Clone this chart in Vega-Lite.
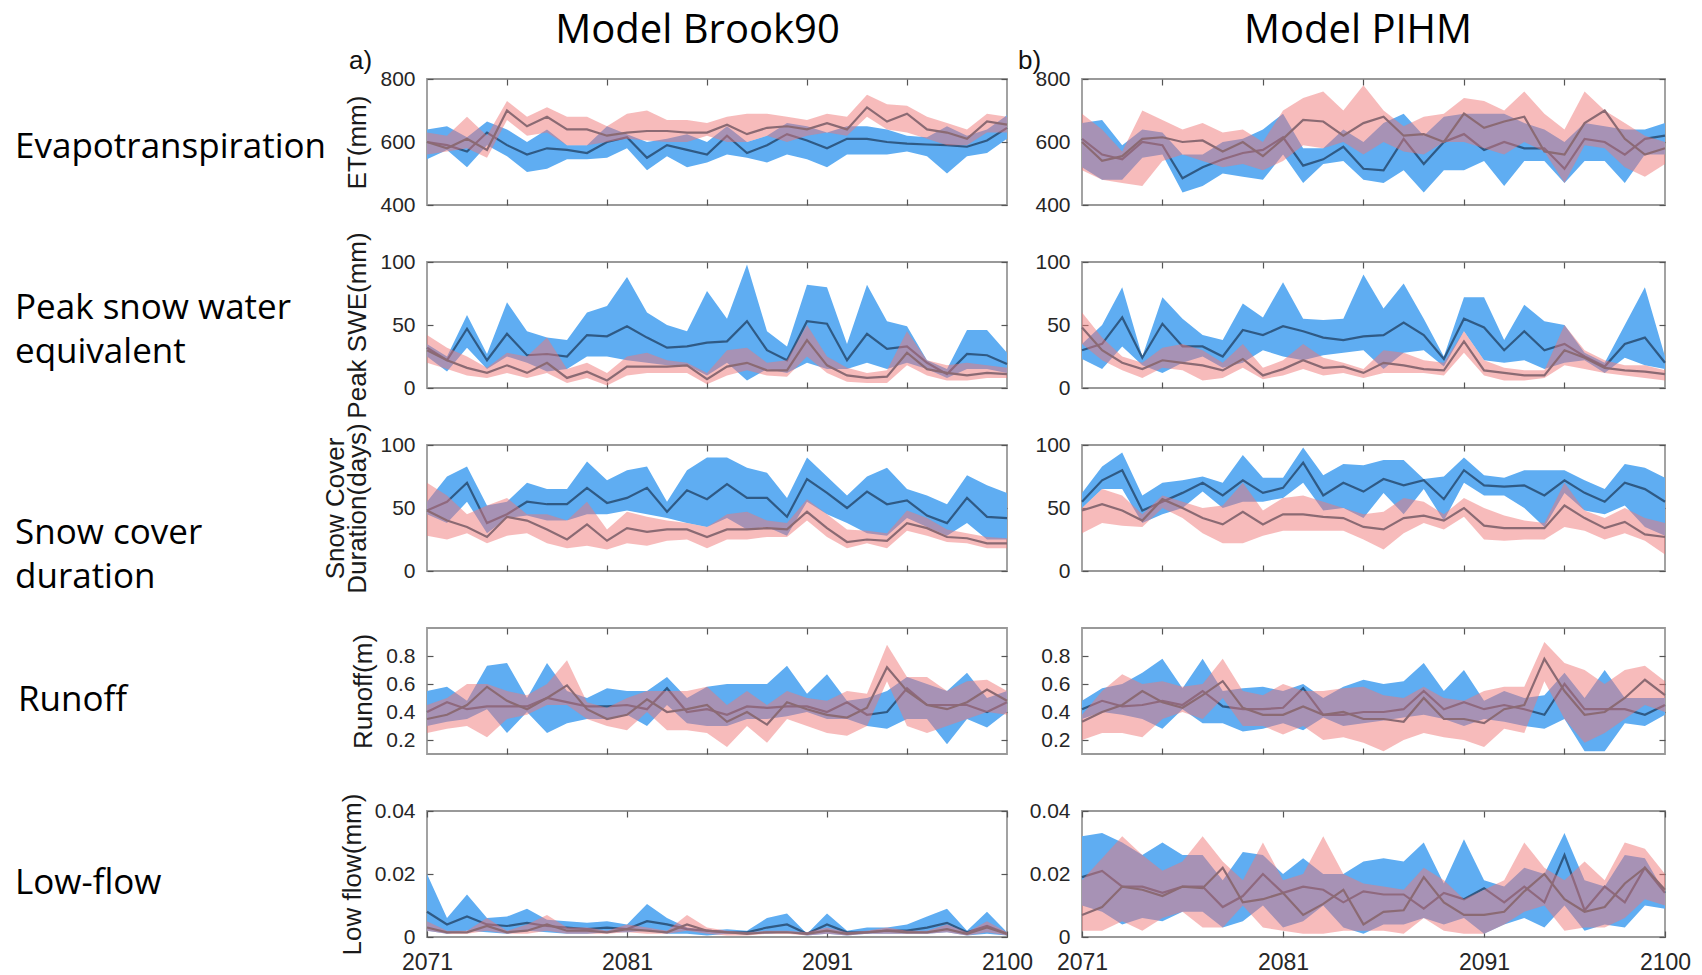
{
"$schema": "https://vega.github.io/schema/vega-lite/v6.json",
"background": "white",
"padding": {"left": 13, "top": 9, "right": 5, "bottom": 0},
"columns": 2,
"bounds": "flush",
"spacing": {"row": 57, "column": 75},
"datasets": {"d": [
{"p":"A1","yr":2071,"blo":545,"bhi":640,"bm":600,"plo":560,"phi":630,"pm":600},
{"p":"A1","yr":2072,"blo":575,"bhi":650,"bm":590,"plo":570,"phi":620,"pm":580},
{"p":"A1","yr":2073,"blo":520,"bhi":615,"bm":570,"plo":580,"phi":680,"pm":610},
{"p":"A1","yr":2074,"blo":590,"bhi":665,"bm":630,"plo":550,"phi":620,"pm":575},
{"p":"A1","yr":2075,"blo":555,"bhi":640,"bm":590,"plo":670,"phi":730,"pm":700},
{"p":"A1","yr":2076,"blo":505,"bhi":600,"bm":560,"plo":620,"phi":680,"pm":650},
{"p":"A1","yr":2077,"blo":515,"bhi":640,"bm":580,"plo":630,"phi":710,"pm":680},
{"p":"A1","yr":2078,"blo":545,"bhi":590,"bm":575,"plo":590,"phi":680,"pm":640},
{"p":"A1","yr":2079,"blo":545,"bhi":590,"bm":565,"plo":590,"phi":680,"pm":640},
{"p":"A1","yr":2080,"blo":550,"bhi":650,"bm":600,"plo":600,"phi":650,"pm":620},
{"p":"A1","yr":2081,"blo":580,"bhi":625,"bm":615,"plo":610,"phi":690,"pm":630},
{"p":"A1","yr":2082,"blo":510,"bhi":600,"bm":550,"plo":605,"phi":700,"pm":635},
{"p":"A1","yr":2083,"blo":555,"bhi":610,"bm":590,"plo":600,"phi":670,"pm":635},
{"p":"A1","yr":2084,"blo":520,"bhi":625,"bm":575,"plo":600,"phi":670,"pm":630},
{"p":"A1","yr":2085,"blo":535,"bhi":600,"bm":560,"plo":620,"phi":660,"pm":630},
{"p":"A1","yr":2086,"blo":560,"bhi":650,"bm":620,"plo":600,"phi":680,"pm":655},
{"p":"A1","yr":2087,"blo":550,"bhi":600,"bm":565,"plo":600,"phi":690,"pm":625},
{"p":"A1","yr":2088,"blo":535,"bhi":620,"bm":590,"plo":620,"phi":690,"pm":645},
{"p":"A1","yr":2089,"blo":560,"bhi":660,"bm":625,"plo":600,"phi":680,"pm":650},
{"p":"A1","yr":2090,"blo":545,"bhi":650,"bm":605,"plo":620,"phi":670,"pm":640},
{"p":"A1","yr":2091,"blo":520,"bhi":630,"bm":580,"plo":630,"phi":690,"pm":660},
{"p":"A1","yr":2092,"blo":560,"bhi":650,"bm":610,"plo":620,"phi":680,"pm":640},
{"p":"A1","yr":2093,"blo":560,"bhi":650,"bm":610,"plo":680,"phi":750,"pm":710},
{"p":"A1","yr":2094,"blo":560,"bhi":640,"bm":600,"plo":640,"phi":720,"pm":665},
{"p":"A1","yr":2095,"blo":570,"bhi":620,"bm":595,"plo":630,"phi":715,"pm":690},
{"p":"A1","yr":2096,"blo":555,"bhi":615,"bm":592,"plo":610,"phi":680,"pm":640},
{"p":"A1","yr":2097,"blo":500,"bhi":650,"bm":590,"plo":590,"phi":660,"pm":630},
{"p":"A1","yr":2098,"blo":555,"bhi":620,"bm":585,"plo":590,"phi":640,"pm":610},
{"p":"A1","yr":2099,"blo":565,"bhi":640,"bm":605,"plo":630,"phi":690,"pm":665},
{"p":"A1","yr":2100,"blo":610,"bhi":685,"bm":645,"plo":630,"phi":680,"pm":655},
{"p":"B1","yr":2071,"blo":520,"bhi":660,"bm":610,"plo":510,"phi":690,"pm":600},
{"p":"B1","yr":2072,"blo":480,"bhi":670,"bm":560,"plo":480,"phi":640,"pm":540},
{"p":"B1","yr":2073,"blo":480,"bhi":590,"bm":545,"plo":470,"phi":570,"pm":555},
{"p":"B1","yr":2074,"blo":550,"bhi":640,"bm":600,"plo":460,"phi":700,"pm":610},
{"p":"B1","yr":2075,"blo":560,"bhi":630,"bm":590,"plo":540,"phi":670,"pm":615},
{"p":"B1","yr":2076,"blo":440,"bhi":560,"bm":485,"plo":560,"phi":640,"pm":600},
{"p":"B1","yr":2077,"blo":460,"bhi":560,"bm":520,"plo":540,"phi":660,"pm":605},
{"p":"B1","yr":2078,"blo":500,"bhi":600,"bm":545,"plo":520,"phi":630,"pm":570},
{"p":"B1","yr":2079,"blo":490,"bhi":610,"bm":565,"plo":530,"phi":640,"pm":600},
{"p":"B1","yr":2080,"blo":480,"bhi":640,"bm":575,"plo":510,"phi":600,"pm":555},
{"p":"B1","yr":2081,"blo":560,"bhi":690,"bm":615,"plo":540,"phi":700,"pm":610},
{"p":"B1","yr":2082,"blo":470,"bhi":580,"bm":525,"plo":590,"phi":740,"pm":670},
{"p":"B1","yr":2083,"blo":530,"bhi":580,"bm":545,"plo":580,"phi":760,"pm":665},
{"p":"B1","yr":2084,"blo":540,"bhi":640,"bm":585,"plo":600,"phi":700,"pm":620},
{"p":"B1","yr":2085,"blo":480,"bhi":600,"bm":515,"plo":560,"phi":780,"pm":660},
{"p":"B1","yr":2086,"blo":470,"bhi":660,"bm":510,"plo":600,"phi":700,"pm":680},
{"p":"B1","yr":2087,"blo":510,"bhi":690,"bm":610,"plo":570,"phi":650,"pm":620},
{"p":"B1","yr":2088,"blo":440,"bhi":620,"bm":530,"plo":560,"phi":680,"pm":625},
{"p":"B1","yr":2089,"blo":510,"bhi":680,"bm":600,"plo":600,"phi":690,"pm":600},
{"p":"B1","yr":2090,"blo":510,"bhi":690,"bm":625,"plo":600,"phi":740,"pm":690},
{"p":"B1","yr":2091,"blo":540,"bhi":690,"bm":575,"plo":580,"phi":730,"pm":645},
{"p":"B1","yr":2092,"blo":460,"bhi":690,"bm":600,"plo":560,"phi":700,"pm":665},
{"p":"B1","yr":2093,"blo":540,"bhi":660,"bm":580,"plo":600,"phi":760,"pm":680},
{"p":"B1","yr":2094,"blo":540,"bhi":640,"bm":580,"plo":570,"phi":690,"pm":570},
{"p":"B1","yr":2095,"blo":470,"bhi":600,"bm":515,"plo":470,"phi":640,"pm":560},
{"p":"B1","yr":2096,"blo":540,"bhi":660,"bm":610,"plo":590,"phi":760,"pm":660},
{"p":"B1","yr":2097,"blo":540,"bhi":650,"bm":600,"plo":580,"phi":700,"pm":700},
{"p":"B1","yr":2098,"blo":470,"bhi":640,"bm":560,"plo":520,"phi":660,"pm":610},
{"p":"B1","yr":2099,"blo":560,"bhi":640,"bm":610,"plo":490,"phi":620,"pm":560},
{"p":"B1","yr":2100,"blo":560,"bhi":660,"bm":620,"plo":530,"phi":600,"pm":580},
{"p":"A2","yr":2071,"blo":25,"bhi":35,"bm":32,"plo":20,"phi":42,"pm":30},
{"p":"A2","yr":2072,"blo":13,"bhi":25,"bm":22,"plo":15,"phi":32,"pm":22},
{"p":"A2","yr":2073,"blo":32,"bhi":58,"bm":47,"plo":10,"phi":25,"pm":16},
{"p":"A2","yr":2074,"blo":15,"bhi":27,"bm":22,"plo":8,"phi":16,"pm":12},
{"p":"A2","yr":2075,"blo":25,"bhi":68,"bm":43,"plo":12,"phi":28,"pm":18},
{"p":"A2","yr":2076,"blo":20,"bhi":45,"bm":26,"plo":8,"phi":25,"pm":12},
{"p":"A2","yr":2077,"blo":13,"bhi":40,"bm":27,"plo":12,"phi":40,"pm":20},
{"p":"A2","yr":2078,"blo":15,"bhi":38,"bm":25,"plo":4,"phi":15,"pm":8},
{"p":"A2","yr":2079,"blo":25,"bhi":60,"bm":42,"plo":8,"phi":20,"pm":13},
{"p":"A2","yr":2080,"blo":25,"bhi":65,"bm":41,"plo":2,"phi":12,"pm":6},
{"p":"A2","yr":2081,"blo":22,"bhi":88,"bm":49,"plo":10,"phi":25,"pm":17},
{"p":"A2","yr":2082,"blo":20,"bhi":60,"bm":40,"plo":12,"phi":28,"pm":17},
{"p":"A2","yr":2083,"blo":18,"bhi":50,"bm":32,"plo":12,"phi":22,"pm":17},
{"p":"A2","yr":2084,"blo":18,"bhi":45,"bm":33,"plo":12,"phi":20,"pm":18},
{"p":"A2","yr":2085,"blo":10,"bhi":77,"bm":36,"plo":3,"phi":12,"pm":7},
{"p":"A2","yr":2086,"blo":20,"bhi":55,"bm":37,"plo":10,"phi":30,"pm":17},
{"p":"A2","yr":2087,"blo":6,"bhi":98,"bm":53,"plo":14,"phi":32,"pm":20},
{"p":"A2","yr":2088,"blo":15,"bhi":45,"bm":30,"plo":10,"phi":20,"pm":14},
{"p":"A2","yr":2089,"blo":12,"bhi":33,"bm":22,"plo":9,"phi":22,"pm":14},
{"p":"A2","yr":2090,"blo":20,"bhi":82,"bm":53,"plo":25,"phi":50,"pm":38},
{"p":"A2","yr":2091,"blo":15,"bhi":80,"bm":51,"plo":12,"phi":25,"pm":18},
{"p":"A2","yr":2092,"blo":15,"bhi":35,"bm":22,"plo":5,"phi":16,"pm":10},
{"p":"A2","yr":2093,"blo":20,"bhi":82,"bm":43,"plo":4,"phi":12,"pm":8},
{"p":"A2","yr":2094,"blo":15,"bhi":53,"bm":31,"plo":4,"phi":14,"pm":9},
{"p":"A2","yr":2095,"blo":20,"bhi":49,"bm":33,"plo":18,"phi":45,"pm":28},
{"p":"A2","yr":2096,"blo":15,"bhi":22,"bm":20,"plo":10,"phi":22,"pm":15},
{"p":"A2","yr":2097,"blo":8,"bhi":15,"bm":11,"plo":6,"phi":18,"pm":12},
{"p":"A2","yr":2098,"blo":15,"bhi":46,"bm":27,"plo":6,"phi":20,"pm":10},
{"p":"A2","yr":2099,"blo":15,"bhi":46,"bm":26,"plo":8,"phi":18,"pm":12},
{"p":"A2","yr":2100,"blo":12,"bhi":28,"bm":19,"plo":8,"phi":16,"pm":11},
{"p":"B2","yr":2071,"blo":23,"bhi":35,"bm":30,"plo":35,"phi":60,"pm":48},
{"p":"B2","yr":2072,"blo":15,"bhi":50,"bm":35,"plo":22,"phi":40,"pm":30},
{"p":"B2","yr":2073,"blo":33,"bhi":80,"bm":56,"plo":14,"phi":25,"pm":20},
{"p":"B2","yr":2074,"blo":18,"bhi":25,"bm":24,"plo":8,"phi":20,"pm":15},
{"p":"B2","yr":2075,"blo":12,"bhi":72,"bm":51,"plo":16,"phi":32,"pm":22},
{"p":"B2","yr":2076,"blo":20,"bhi":55,"bm":33,"plo":14,"phi":35,"pm":20},
{"p":"B2","yr":2077,"blo":25,"bhi":42,"bm":33,"plo":6,"phi":30,"pm":18},
{"p":"B2","yr":2078,"blo":16,"bhi":38,"bm":25,"plo":8,"phi":20,"pm":14},
{"p":"B2","yr":2079,"blo":20,"bhi":67,"bm":46,"plo":16,"phi":35,"pm":23},
{"p":"B2","yr":2080,"blo":30,"bhi":56,"bm":42,"plo":7,"phi":16,"pm":10},
{"p":"B2","yr":2081,"blo":25,"bhi":84,"bm":49,"plo":10,"phi":22,"pm":15},
{"p":"B2","yr":2082,"blo":22,"bhi":55,"bm":45,"plo":15,"phi":35,"pm":22},
{"p":"B2","yr":2083,"blo":26,"bhi":54,"bm":40,"plo":10,"phi":24,"pm":16},
{"p":"B2","yr":2084,"blo":28,"bhi":55,"bm":38,"plo":12,"phi":20,"pm":17},
{"p":"B2","yr":2085,"blo":30,"bhi":90,"bm":41,"plo":8,"phi":15,"pm":12},
{"p":"B2","yr":2086,"blo":15,"bhi":63,"bm":42,"plo":12,"phi":30,"pm":20},
{"p":"B2","yr":2087,"blo":28,"bhi":83,"bm":52,"plo":12,"phi":28,"pm":18},
{"p":"B2","yr":2088,"blo":30,"bhi":55,"bm":42,"plo":12,"phi":22,"pm":15},
{"p":"B2","yr":2089,"blo":17,"bhi":25,"bm":23,"plo":10,"phi":20,"pm":14},
{"p":"B2","yr":2090,"blo":45,"bhi":72,"bm":55,"plo":28,"phi":45,"pm":37},
{"p":"B2","yr":2091,"blo":22,"bhi":72,"bm":48,"plo":10,"phi":22,"pm":14},
{"p":"B2","yr":2092,"blo":20,"bhi":38,"bm":30,"plo":6,"phi":16,"pm":12},
{"p":"B2","yr":2093,"blo":22,"bhi":66,"bm":45,"plo":6,"phi":14,"pm":10},
{"p":"B2","yr":2094,"blo":15,"bhi":53,"bm":30,"plo":8,"phi":14,"pm":10},
{"p":"B2","yr":2095,"blo":20,"bhi":50,"bm":35,"plo":18,"phi":50,"pm":30},
{"p":"B2","yr":2096,"blo":22,"bhi":28,"bm":25,"plo":15,"phi":30,"pm":24},
{"p":"B2","yr":2097,"blo":12,"bhi":20,"bm":17,"plo":12,"phi":22,"pm":16},
{"p":"B2","yr":2098,"blo":24,"bhi":50,"bm":35,"plo":10,"phi":18,"pm":14},
{"p":"B2","yr":2099,"blo":18,"bhi":80,"bm":40,"plo":8,"phi":18,"pm":13},
{"p":"B2","yr":2100,"blo":15,"bhi":25,"bm":20,"plo":6,"phi":14,"pm":11},
{"p":"A3","yr":2071,"blo":45,"bhi":55,"bm":48,"plo":28,"phi":70,"pm":48},
{"p":"A3","yr":2072,"blo":38,"bhi":75,"bm":55,"plo":25,"phi":60,"pm":40},
{"p":"A3","yr":2073,"blo":55,"bhi":83,"bm":70,"plo":30,"phi":45,"pm":35},
{"p":"A3","yr":2074,"blo":30,"bhi":52,"bm":38,"plo":22,"phi":52,"pm":27},
{"p":"A3","yr":2075,"blo":42,"bhi":55,"bm":45,"plo":28,"phi":58,"pm":43},
{"p":"A3","yr":2076,"blo":44,"bhi":70,"bm":55,"plo":30,"phi":45,"pm":40},
{"p":"A3","yr":2077,"blo":40,"bhi":65,"bm":53,"plo":22,"phi":45,"pm":33},
{"p":"A3","yr":2078,"blo":40,"bhi":65,"bm":53,"plo":18,"phi":40,"pm":25},
{"p":"A3","yr":2079,"blo":45,"bhi":87,"bm":66,"plo":20,"phi":55,"pm":37},
{"p":"A3","yr":2080,"blo":45,"bhi":72,"bm":54,"plo":17,"phi":33,"pm":24},
{"p":"A3","yr":2081,"blo":48,"bhi":80,"bm":58,"plo":22,"phi":47,"pm":34},
{"p":"A3","yr":2082,"blo":45,"bhi":83,"bm":66,"plo":20,"phi":43,"pm":31},
{"p":"A3","yr":2083,"blo":42,"bhi":55,"bm":47,"plo":24,"phi":40,"pm":33},
{"p":"A3","yr":2084,"blo":38,"bhi":80,"bm":64,"plo":25,"phi":38,"pm":33},
{"p":"A3","yr":2085,"blo":35,"bhi":90,"bm":57,"plo":18,"phi":35,"pm":27},
{"p":"A3","yr":2086,"blo":42,"bhi":90,"bm":69,"plo":25,"phi":45,"pm":33},
{"p":"A3","yr":2087,"blo":33,"bhi":82,"bm":58,"plo":25,"phi":47,"pm":33},
{"p":"A3","yr":2088,"blo":35,"bhi":78,"bm":58,"plo":27,"phi":40,"pm":34},
{"p":"A3","yr":2089,"blo":28,"bhi":58,"bm":43,"plo":27,"phi":38,"pm":33},
{"p":"A3","yr":2090,"blo":55,"bhi":90,"bm":73,"plo":40,"phi":57,"pm":47},
{"p":"A3","yr":2091,"blo":45,"bhi":75,"bm":62,"plo":27,"phi":45,"pm":34},
{"p":"A3","yr":2092,"blo":38,"bhi":60,"bm":50,"plo":18,"phi":33,"pm":23},
{"p":"A3","yr":2093,"blo":30,"bhi":75,"bm":63,"plo":22,"phi":32,"pm":25},
{"p":"A3","yr":2094,"blo":28,"bhi":82,"bm":53,"plo":18,"phi":30,"pm":24},
{"p":"A3","yr":2095,"blo":42,"bhi":65,"bm":56,"plo":32,"phi":48,"pm":38},
{"p":"A3","yr":2096,"blo":35,"bhi":60,"bm":44,"plo":28,"phi":42,"pm":34},
{"p":"A3","yr":2097,"blo":28,"bhi":53,"bm":38,"plo":23,"phi":33,"pm":27},
{"p":"A3","yr":2098,"blo":38,"bhi":76,"bm":58,"plo":22,"phi":30,"pm":26},
{"p":"A3","yr":2099,"blo":25,"bhi":68,"bm":43,"plo":18,"phi":27,"pm":22},
{"p":"A3","yr":2100,"blo":25,"bhi":62,"bm":42,"plo":18,"phi":26,"pm":22},
{"p":"B3","yr":2071,"blo":50,"bhi":62,"bm":55,"plo":30,"phi":50,"pm":48},
{"p":"B3","yr":2072,"blo":65,"bhi":83,"bm":72,"plo":38,"phi":65,"pm":53},
{"p":"B3","yr":2073,"blo":65,"bhi":94,"bm":80,"plo":36,"phi":60,"pm":48},
{"p":"B3","yr":2074,"blo":38,"bhi":60,"bm":48,"plo":35,"phi":45,"pm":40},
{"p":"B3","yr":2075,"blo":45,"bhi":70,"bm":55,"plo":50,"phi":60,"pm":57},
{"p":"B3","yr":2076,"blo":50,"bhi":72,"bm":62,"plo":42,"phi":55,"pm":50},
{"p":"B3","yr":2077,"blo":63,"bhi":75,"bm":70,"plo":30,"phi":50,"pm":42},
{"p":"B3","yr":2078,"blo":50,"bhi":70,"bm":60,"plo":22,"phi":52,"pm":37},
{"p":"B3","yr":2079,"blo":55,"bhi":92,"bm":72,"plo":22,"phi":70,"pm":47},
{"p":"B3","yr":2080,"blo":55,"bhi":74,"bm":62,"plo":28,"phi":48,"pm":37},
{"p":"B3","yr":2081,"blo":58,"bhi":74,"bm":66,"plo":32,"phi":58,"pm":45},
{"p":"B3","yr":2082,"blo":70,"bhi":98,"bm":86,"plo":32,"phi":60,"pm":45},
{"p":"B3","yr":2083,"blo":48,"bhi":76,"bm":60,"plo":32,"phi":55,"pm":43},
{"p":"B3","yr":2084,"blo":50,"bhi":85,"bm":70,"plo":32,"phi":50,"pm":42},
{"p":"B3","yr":2085,"blo":42,"bhi":84,"bm":63,"plo":25,"phi":45,"pm":35},
{"p":"B3","yr":2086,"blo":62,"bhi":88,"bm":73,"plo":17,"phi":47,"pm":33},
{"p":"B3","yr":2087,"blo":45,"bhi":88,"bm":68,"plo":30,"phi":58,"pm":42},
{"p":"B3","yr":2088,"blo":65,"bhi":73,"bm":72,"plo":38,"phi":55,"pm":44},
{"p":"B3","yr":2089,"blo":40,"bhi":75,"bm":57,"plo":33,"phi":45,"pm":40},
{"p":"B3","yr":2090,"blo":70,"bhi":90,"bm":80,"plo":43,"phi":58,"pm":50},
{"p":"B3","yr":2091,"blo":60,"bhi":76,"bm":68,"plo":25,"phi":50,"pm":36},
{"p":"B3","yr":2092,"blo":60,"bhi":74,"bm":67,"plo":24,"phi":44,"pm":34},
{"p":"B3","yr":2093,"blo":50,"bhi":80,"bm":68,"plo":25,"phi":40,"pm":34},
{"p":"B3","yr":2094,"blo":35,"bhi":80,"bm":60,"plo":25,"phi":38,"pm":34},
{"p":"B3","yr":2095,"blo":62,"bhi":80,"bm":72,"plo":35,"phi":70,"pm":52},
{"p":"B3","yr":2096,"blo":48,"bhi":72,"bm":62,"plo":32,"phi":48,"pm":42},
{"p":"B3","yr":2097,"blo":45,"bhi":65,"bm":55,"plo":25,"phi":42,"pm":34},
{"p":"B3","yr":2098,"blo":52,"bhi":85,"bm":70,"plo":30,"phi":50,"pm":39},
{"p":"B3","yr":2099,"blo":35,"bhi":82,"bm":65,"plo":24,"phi":42,"pm":29},
{"p":"B3","yr":2100,"blo":28,"bhi":74,"bm":55,"plo":13,"phi":38,"pm":27},
{"p":"A4","yr":2071,"blo":0.30,"bhi":0.55,"bm":0.40,"plo":0.25,"phi":0.45,"pm":0.35},
{"p":"A4","yr":2072,"blo":0.33,"bhi":0.58,"bm":0.47,"plo":0.28,"phi":0.50,"pm":0.38},
{"p":"A4","yr":2073,"blo":0.35,"bhi":0.48,"bm":0.42,"plo":0.30,"phi":0.60,"pm":0.45},
{"p":"A4","yr":2074,"blo":0.42,"bhi":0.73,"bm":0.44,"plo":0.22,"phi":0.60,"pm":0.58},
{"p":"A4","yr":2075,"blo":0.25,"bhi":0.75,"bm":0.44,"plo":0.35,"phi":0.55,"pm":0.48},
{"p":"A4","yr":2076,"blo":0.40,"bhi":0.50,"bm":0.44,"plo":0.38,"phi":0.52,"pm":0.42},
{"p":"A4","yr":2077,"blo":0.25,"bhi":0.75,"bm":0.50,"plo":0.45,"phi":0.60,"pm":0.50},
{"p":"A4","yr":2078,"blo":0.32,"bhi":0.55,"bm":0.47,"plo":0.45,"phi":0.77,"pm":0.59},
{"p":"A4","yr":2079,"blo":0.35,"bhi":0.50,"bm":0.44,"plo":0.35,"phi":0.47,"pm":0.42},
{"p":"A4","yr":2080,"blo":0.35,"bhi":0.57,"bm":0.44,"plo":0.30,"phi":0.43,"pm":0.35},
{"p":"A4","yr":2081,"blo":0.38,"bhi":0.55,"bm":0.45,"plo":0.27,"phi":0.50,"pm":0.38},
{"p":"A4","yr":2082,"blo":0.30,"bhi":0.55,"bm":0.42,"plo":0.40,"phi":0.55,"pm":0.49},
{"p":"A4","yr":2083,"blo":0.45,"bhi":0.65,"bm":0.57,"plo":0.27,"phi":0.55,"pm":0.40},
{"p":"A4","yr":2084,"blo":0.32,"bhi":0.50,"bm":0.40,"plo":0.27,"phi":0.55,"pm":0.42},
{"p":"A4","yr":2085,"blo":0.30,"bhi":0.58,"bm":0.42,"plo":0.25,"phi":0.58,"pm":0.45},
{"p":"A4","yr":2086,"blo":0.30,"bhi":0.60,"bm":0.38,"plo":0.15,"phi":0.45,"pm":0.33},
{"p":"A4","yr":2087,"blo":0.35,"bhi":0.60,"bm":0.44,"plo":0.30,"phi":0.55,"pm":0.40},
{"p":"A4","yr":2088,"blo":0.35,"bhi":0.60,"bm":0.43,"plo":0.18,"phi":0.45,"pm":0.31},
{"p":"A4","yr":2089,"blo":0.37,"bhi":0.73,"bm":0.44,"plo":0.35,"phi":0.55,"pm":0.47},
{"p":"A4","yr":2090,"blo":0.40,"bhi":0.53,"bm":0.44,"plo":0.30,"phi":0.50,"pm":0.42},
{"p":"A4","yr":2091,"blo":0.35,"bhi":0.67,"bm":0.40,"plo":0.25,"phi":0.48,"pm":0.38},
{"p":"A4","yr":2092,"blo":0.35,"bhi":0.48,"bm":0.47,"plo":0.23,"phi":0.55,"pm":0.36},
{"p":"A4","yr":2093,"blo":0.30,"bhi":0.50,"bm":0.38,"plo":0.30,"phi":0.53,"pm":0.43},
{"p":"A4","yr":2094,"blo":0.28,"bhi":0.55,"bm":0.40,"plo":0.62,"phi":0.88,"pm":0.72},
{"p":"A4","yr":2095,"blo":0.35,"bhi":0.65,"bm":0.57,"plo":0.30,"phi":0.65,"pm":0.55},
{"p":"A4","yr":2096,"blo":0.35,"bhi":0.60,"bm":0.45,"plo":0.25,"phi":0.65,"pm":0.45},
{"p":"A4","yr":2097,"blo":0.17,"bhi":0.55,"bm":0.45,"plo":0.30,"phi":0.55,"pm":0.42},
{"p":"A4","yr":2098,"blo":0.35,"bhi":0.68,"bm":0.45,"plo":0.35,"phi":0.62,"pm":0.47},
{"p":"A4","yr":2099,"blo":0.29,"bhi":0.50,"bm":0.40,"plo":0.40,"phi":0.63,"pm":0.56},
{"p":"A4","yr":2100,"blo":0.40,"bhi":0.55,"bm":0.47,"plo":0.38,"phi":0.55,"pm":0.48},
{"p":"B4","yr":2071,"blo":0.35,"bhi":0.48,"bm":0.42,"plo":0.20,"phi":0.38,"pm":0.33},
{"p":"B4","yr":2072,"blo":0.40,"bhi":0.57,"bm":0.48,"plo":0.25,"phi":0.55,"pm":0.40},
{"p":"B4","yr":2073,"blo":0.38,"bhi":0.60,"bm":0.44,"plo":0.25,"phi":0.67,"pm":0.45},
{"p":"B4","yr":2074,"blo":0.35,"bhi":0.68,"bm":0.45,"plo":0.22,"phi":0.60,"pm":0.55},
{"p":"B4","yr":2075,"blo":0.28,"bhi":0.78,"bm":0.48,"plo":0.35,"phi":0.62,"pm":0.47},
{"p":"B4","yr":2076,"blo":0.42,"bhi":0.57,"bm":0.45,"plo":0.40,"phi":0.58,"pm":0.43},
{"p":"B4","yr":2077,"blo":0.32,"bhi":0.78,"bm":0.55,"plo":0.35,"phi":0.60,"pm":0.52},
{"p":"B4","yr":2078,"blo":0.32,"bhi":0.55,"bm":0.44,"plo":0.50,"phi":0.78,"pm":0.62},
{"p":"B4","yr":2079,"blo":0.26,"bhi":0.57,"bm":0.42,"plo":0.30,"phi":0.55,"pm":0.43},
{"p":"B4","yr":2080,"blo":0.28,"bhi":0.58,"bm":0.42,"plo":0.30,"phi":0.52,"pm":0.38},
{"p":"B4","yr":2081,"blo":0.32,"bhi":0.55,"bm":0.43,"plo":0.24,"phi":0.60,"pm":0.38},
{"p":"B4","yr":2082,"blo":0.27,"bhi":0.60,"bm":0.57,"plo":0.30,"phi":0.55,"pm":0.44},
{"p":"B4","yr":2083,"blo":0.36,"bhi":0.50,"bm":0.38,"plo":0.20,"phi":0.55,"pm":0.38},
{"p":"B4","yr":2084,"blo":0.30,"bhi":0.58,"bm":0.38,"plo":0.22,"phi":0.57,"pm":0.40},
{"p":"B4","yr":2085,"blo":0.32,"bhi":0.63,"bm":0.40,"plo":0.18,"phi":0.58,"pm":0.35},
{"p":"B4","yr":2086,"blo":0.34,"bhi":0.60,"bm":0.40,"plo":0.12,"phi":0.52,"pm":0.35},
{"p":"B4","yr":2087,"blo":0.36,"bhi":0.62,"bm":0.42,"plo":0.20,"phi":0.50,"pm":0.33},
{"p":"B4","yr":2088,"blo":0.38,"bhi":0.75,"bm":0.55,"plo":0.25,"phi":0.58,"pm":0.50},
{"p":"B4","yr":2089,"blo":0.35,"bhi":0.55,"bm":0.42,"plo":0.22,"phi":0.50,"pm":0.35},
{"p":"B4","yr":2090,"blo":0.30,"bhi":0.70,"bm":0.47,"plo":0.20,"phi":0.48,"pm":0.35},
{"p":"B4","yr":2091,"blo":0.35,"bhi":0.48,"bm":0.42,"plo":0.15,"phi":0.55,"pm":0.32},
{"p":"B4","yr":2092,"blo":0.33,"bhi":0.55,"bm":0.45,"plo":0.28,"phi":0.58,"pm":0.42},
{"p":"B4","yr":2093,"blo":0.30,"bhi":0.50,"bm":0.42,"plo":0.25,"phi":0.58,"pm":0.45},
{"p":"B4","yr":2094,"blo":0.28,"bhi":0.52,"bm":0.38,"plo":0.62,"phi":0.90,"pm":0.78},
{"p":"B4","yr":2095,"blo":0.35,"bhi":0.68,"bm":0.60,"plo":0.35,"phi":0.75,"pm":0.55},
{"p":"B4","yr":2096,"blo":0.12,"bhi":0.50,"bm":0.42,"plo":0.18,"phi":0.70,"pm":0.38},
{"p":"B4","yr":2097,"blo":0.12,"bhi":0.70,"bm":0.42,"plo":0.25,"phi":0.60,"pm":0.40},
{"p":"B4","yr":2098,"blo":0.32,"bhi":0.50,"bm":0.42,"plo":0.35,"phi":0.70,"pm":0.50},
{"p":"B4","yr":2099,"blo":0.30,"bhi":0.50,"bm":0.38,"plo":0.45,"phi":0.73,"pm":0.63},
{"p":"B4","yr":2100,"blo":0.38,"bhi":0.50,"bm":0.45,"plo":0.40,"phi":0.62,"pm":0.52},
{"p":"A5","yr":2071,"blo":0.002,"bhi":0.020,"bm":0.008,"plo":0.002,"phi":0.005,"pm":0.003},
{"p":"A5","yr":2072,"blo":0.001,"bhi":0.006,"bm":0.004,"plo":0.001,"phi":0.002,"pm":0.0015},
{"p":"A5","yr":2073,"blo":0.002,"bhi":0.0135,"bm":0.0065,"plo":0.001,"phi":0.002,"pm":0.0015},
{"p":"A5","yr":2074,"blo":0.0015,"bhi":0.006,"bm":0.004,"plo":0.002,"phi":0.006,"pm":0.0035},
{"p":"A5","yr":2075,"blo":0.001,"bhi":0.0065,"bm":0.0035,"plo":0.001,"phi":0.002,"pm":0.0015},
{"p":"A5","yr":2076,"blo":0.002,"bhi":0.009,"bm":0.0045,"plo":0.001,"phi":0.004,"pm":0.002},
{"p":"A5","yr":2077,"blo":0.0015,"bhi":0.0055,"bm":0.0035,"plo":0.002,"phi":0.007,"pm":0.004},
{"p":"A5","yr":2078,"blo":0.001,"bhi":0.005,"bm":0.003,"plo":0.001,"phi":0.003,"pm":0.002},
{"p":"A5","yr":2079,"blo":0.001,"bhi":0.0045,"bm":0.0025,"plo":0.001,"phi":0.003,"pm":0.002},
{"p":"A5","yr":2080,"blo":0.0015,"bhi":0.005,"bm":0.003,"plo":0.001,"phi":0.002,"pm":0.0015},
{"p":"A5","yr":2081,"blo":0.0015,"bhi":0.004,"bm":0.0025,"plo":0.0015,"phi":0.004,"pm":0.0025},
{"p":"A5","yr":2082,"blo":0.002,"bhi":0.0105,"bm":0.005,"plo":0.001,"phi":0.003,"pm":0.002},
{"p":"A5","yr":2083,"blo":0.001,"bhi":0.006,"bm":0.004,"plo":0.001,"phi":0.002,"pm":0.0015},
{"p":"A5","yr":2084,"blo":0.001,"bhi":0.003,"bm":0.0025,"plo":0.002,"phi":0.007,"pm":0.004},
{"p":"A5","yr":2085,"blo":0.0005,"bhi":0.002,"bm":0.002,"plo":0.001,"phi":0.003,"pm":0.002},
{"p":"A5","yr":2086,"blo":0.001,"bhi":0.0025,"bm":0.0015,"plo":0.0005,"phi":0.002,"pm":0.0015},
{"p":"A5","yr":2087,"blo":0.001,"bhi":0.002,"bm":0.0015,"plo":0.0005,"phi":0.0015,"pm":0.001},
{"p":"A5","yr":2088,"blo":0.001,"bhi":0.006,"bm":0.003,"plo":0.001,"phi":0.002,"pm":0.0015},
{"p":"A5","yr":2089,"blo":0.0015,"bhi":0.0075,"bm":0.004,"plo":0.001,"phi":0.002,"pm":0.0015},
{"p":"A5","yr":2090,"blo":0.0005,"bhi":0.001,"bm":0.001,"plo":0.0005,"phi":0.0015,"pm":0.001},
{"p":"A5","yr":2091,"blo":0.001,"bhi":0.0075,"bm":0.004,"plo":0.001,"phi":0.003,"pm":0.002},
{"p":"A5","yr":2092,"blo":0.0005,"bhi":0.002,"bm":0.0015,"plo":0.0005,"phi":0.0015,"pm":0.001},
{"p":"A5","yr":2093,"blo":0.001,"bhi":0.003,"bm":0.0015,"plo":0.001,"phi":0.002,"pm":0.0015},
{"p":"A5","yr":2094,"blo":0.001,"bhi":0.003,"bm":0.002,"plo":0.001,"phi":0.003,"pm":0.002},
{"p":"A5","yr":2095,"blo":0.001,"bhi":0.004,"bm":0.002,"plo":0.001,"phi":0.002,"pm":0.0015},
{"p":"A5","yr":2096,"blo":0.001,"bhi":0.0065,"bm":0.003,"plo":0.001,"phi":0.002,"pm":0.0015},
{"p":"A5","yr":2097,"blo":0.0015,"bhi":0.009,"bm":0.0045,"plo":0.0015,"phi":0.004,"pm":0.0025},
{"p":"A5","yr":2098,"blo":0.0005,"bhi":0.002,"bm":0.0015,"plo":0.0005,"phi":0.0015,"pm":0.001},
{"p":"A5","yr":2099,"blo":0.001,"bhi":0.008,"bm":0.0035,"plo":0.0015,"phi":0.005,"pm":0.003},
{"p":"A5","yr":2100,"blo":0.0005,"bhi":0.0015,"bm":0.001,"plo":0.0005,"phi":0.0015,"pm":0.001},
{"p":"B5","yr":2071,"blo":0.010,"bhi":0.032,"bm":0.019,"plo":0.002,"phi":0.018,"pm":0.007},
{"p":"B5","yr":2072,"blo":0.008,"bhi":0.033,"bm":0.021,"plo":0.002,"phi":0.025,"pm":0.0095},
{"p":"B5","yr":2073,"blo":0.004,"bhi":0.030,"bm":0.016,"plo":0.005,"phi":0.032,"pm":0.016},
{"p":"B5","yr":2074,"blo":0.006,"bhi":0.026,"bm":0.016,"plo":0.002,"phi":0.026,"pm":0.015},
{"p":"B5","yr":2075,"blo":0.005,"bhi":0.030,"bm":0.014,"plo":0.006,"phi":0.021,"pm":0.013},
{"p":"B5","yr":2076,"blo":0.008,"bhi":0.026,"bm":0.016,"plo":0.008,"phi":0.024,"pm":0.016},
{"p":"B5","yr":2077,"blo":0.008,"bhi":0.026,"bm":0.016,"plo":0.003,"phi":0.032,"pm":0.0155},
{"p":"B5","yr":2078,"blo":0.003,"bhi":0.018,"bm":0.0095,"plo":0.003,"phi":0.024,"pm":0.022},
{"p":"B5","yr":2079,"blo":0.005,"bhi":0.027,"bm":0.013,"plo":0.010,"phi":0.018,"pm":0.011},
{"p":"B5","yr":2080,"blo":0.010,"bhi":0.026,"bm":0.020,"plo":0.003,"phi":0.030,"pm":0.012},
{"p":"B5","yr":2081,"blo":0.003,"bhi":0.020,"bm":0.014,"plo":0.002,"phi":0.018,"pm":0.014},
{"p":"B5","yr":2082,"blo":0.005,"bhi":0.025,"bm":0.016,"plo":0.001,"phi":0.020,"pm":0.007},
{"p":"B5","yr":2083,"blo":0.010,"bhi":0.020,"bm":0.015,"plo":0.001,"phi":0.032,"pm":0.0105},
{"p":"B5","yr":2084,"blo":0.003,"bhi":0.020,"bm":0.011,"plo":0.002,"phi":0.020,"pm":0.015},
{"p":"B5","yr":2085,"blo":0.001,"bhi":0.024,"bm":0.0145,"plo":0.002,"phi":0.017,"pm":0.004},
{"p":"B5","yr":2086,"blo":0.004,"bhi":0.025,"bm":0.0135,"plo":0.002,"phi":0.016,"pm":0.008},
{"p":"B5","yr":2087,"blo":0.004,"bhi":0.024,"bm":0.0135,"plo":0.001,"phi":0.015,"pm":0.0085},
{"p":"B5","yr":2088,"blo":0.006,"bhi":0.030,"bm":0.009,"plo":0.006,"phi":0.022,"pm":0.019},
{"p":"B5","yr":2089,"blo":0.004,"bhi":0.017,"bm":0.014,"plo":0.002,"phi":0.018,"pm":0.011},
{"p":"B5","yr":2090,"blo":0.006,"bhi":0.031,"bm":0.012,"plo":0.001,"phi":0.012,"pm":0.007},
{"p":"B5","yr":2091,"blo":0.001,"bhi":0.018,"bm":0.0155,"plo":0.001,"phi":0.015,"pm":0.007},
{"p":"B5","yr":2092,"blo":0.004,"bhi":0.016,"bm":0.011,"plo":0.004,"phi":0.018,"pm":0.008},
{"p":"B5","yr":2093,"blo":0.006,"bhi":0.022,"bm":0.016,"plo":0.008,"phi":0.030,"pm":0.0145},
{"p":"B5","yr":2094,"blo":0.003,"bhi":0.020,"bm":0.011,"plo":0.010,"phi":0.022,"pm":0.020},
{"p":"B5","yr":2095,"blo":0.010,"bhi":0.033,"bm":0.026,"plo":0.002,"phi":0.018,"pm":0.012},
{"p":"B5","yr":2096,"blo":0.002,"bhi":0.018,"bm":0.0085,"plo":0.003,"phi":0.024,"pm":0.008},
{"p":"B5","yr":2097,"blo":0.004,"bhi":0.016,"bm":0.016,"plo":0.003,"phi":0.018,"pm":0.0095},
{"p":"B5","yr":2098,"blo":0.003,"bhi":0.026,"bm":0.011,"plo":0.006,"phi":0.030,"pm":0.017},
{"p":"B5","yr":2099,"blo":0.010,"bhi":0.025,"bm":0.022,"plo":0.012,"phi":0.028,"pm":0.022},
{"p":"B5","yr":2100,"blo":0.009,"bhi":0.014,"bm":0.014,"plo":0.010,"phi":0.020,"pm":0.015}
]},
"concat": [
{"width": 580, "height": 126, "data": {"name": "d"}, "transform": [{"filter": "datum.p=='A1'"}],
 "resolve": {"axis": {"x": "independent", "y": "independent"}},
 "layer": [
  {"mark": {"type": "area", "color": "#5fadf2"}, "encoding": {
    "x": {"field": "yr", "type": "quantitative", "scale": {"domain": [2071, 2100], "nice": false, "zero": false}, "axis": {"values": [2075, 2080, 2085, 2090, 2095], "labels": false, "title": "a)", "titleX": -78.5, "titleY": -137, "titleAlign": "left", "titleBaseline": "alphabetic", "titleAngle": 0, "titleFont": "Liberation Sans", "titleFontSize": 26, "titleColor": "#111111"}},
    "y": {"field": "blo", "type": "quantitative", "scale": {"domain": [400, 800], "nice": false, "zero": false}, "axis": {"values": [400, 600, 800], "format": "d", "title": "ET(mm)"}},
    "y2": {"field": "bhi"}}},
  {"mark": {"type": "line", "color": "#2f5a85", "strokeWidth": 2.2}, "encoding": {
    "x": {"field": "yr", "type": "quantitative", "axis": {"orient": "top", "values": [2075, 2080, 2085, 2090, 2095], "labels": false, "title": "Model Brook90", "titleX": 270, "titleY": -37, "titleAlign": "center", "titleBaseline": "alphabetic", "titleAngle": 0, "titleFont": "Open Sans", "titleFontSize": 40, "titleColor": "#000000"}},
    "y": {"field": "bm", "type": "quantitative", "axis": {"orient": "right", "values": [400, 600, 800], "labels": false, "title": "Evapotranspiration", "titleX": -992.5, "titleY": 50, "titleAlign": "left", "titleBaseline": "top", "titleAngle": 0, "titleFont": "Open Sans", "titleFontSize": 35, "titleColor": "#000000"}}}},
  {"mark": {"type": "area", "color": "#f07878", "opacity": 0.5}, "encoding": {
    "x": {"field": "yr", "type": "quantitative", "axis": null},
    "y": {"field": "plo", "type": "quantitative", "axis": null}, "y2": {"field": "phi"}}},
  {"mark": {"type": "line", "color": "#8b6a73", "strokeWidth": 2.2}, "encoding": {
    "x": {"field": "yr", "type": "quantitative", "axis": null},
    "y": {"field": "pm", "type": "quantitative", "axis": null}}}
 ]},
{"width": 583, "height": 126, "data": {"name": "d"}, "transform": [{"filter": "datum.p=='B1'"}],
 "resolve": {"axis": {"x": "independent", "y": "independent"}},
 "layer": [
  {"mark": {"type": "area", "color": "#5fadf2"}, "encoding": {
    "x": {"field": "yr", "type": "quantitative", "scale": {"domain": [2071, 2100], "nice": false, "zero": false}, "axis": {"values": [2075, 2080, 2085, 2090, 2095], "labels": false, "title": "b)", "titleX": -64.5, "titleY": -137, "titleAlign": "left", "titleBaseline": "alphabetic", "titleAngle": 0, "titleFont": "Liberation Sans", "titleFontSize": 26, "titleColor": "#111111"}},
    "y": {"field": "blo", "type": "quantitative", "scale": {"domain": [400, 800], "nice": false, "zero": false}, "axis": {"values": [400, 600, 800], "format": "d", "title": null}},
    "y2": {"field": "bhi"}}},
  {"mark": {"type": "line", "color": "#2f5a85", "strokeWidth": 2.2}, "encoding": {
    "x": {"field": "yr", "type": "quantitative", "axis": {"orient": "top", "values": [2075, 2080, 2085, 2090, 2095], "labels": false, "title": "Model PIHM", "titleX": 275.5, "titleY": -37, "titleAlign": "center", "titleBaseline": "alphabetic", "titleAngle": 0, "titleFont": "Open Sans", "titleFontSize": 40, "titleColor": "#000000"}},
    "y": {"field": "bm", "type": "quantitative", "axis": {"orient": "right", "values": [400, 600, 800], "labels": false, "title": null}}}},
  {"mark": {"type": "area", "color": "#f07878", "opacity": 0.5}, "encoding": {
    "x": {"field": "yr", "type": "quantitative", "axis": null},
    "y": {"field": "plo", "type": "quantitative", "axis": null}, "y2": {"field": "phi"}}},
  {"mark": {"type": "line", "color": "#8b6a73", "strokeWidth": 2.2}, "encoding": {
    "x": {"field": "yr", "type": "quantitative", "axis": null},
    "y": {"field": "pm", "type": "quantitative", "axis": null}}}
 ]},
{"width": 580, "height": 126, "data": {"name": "d"}, "transform": [{"filter": "datum.p=='A2'"}],
 "resolve": {"axis": {"x": "independent", "y": "independent"}},
 "layer": [
  {"mark": {"type": "area", "color": "#5fadf2"}, "encoding": {
    "x": {"field": "yr", "type": "quantitative", "scale": {"domain": [2071, 2100], "nice": false, "zero": false}, "axis": {"values": [2075, 2080, 2085, 2090, 2095], "labels": false, "title": null}},
    "y": {"field": "blo", "type": "quantitative", "scale": {"domain": [0, 100], "nice": false, "zero": false}, "axis": {"values": [0, 50, 100], "format": "d", "title": "Peak SWE(mm)"}},
    "y2": {"field": "bhi"}}},
  {"mark": {"type": "line", "color": "#2f5a85", "strokeWidth": 2.2}, "encoding": {
    "x": {"field": "yr", "type": "quantitative", "axis": {"orient": "top", "values": [2075, 2080, 2085, 2090, 2095], "labels": false, "title": null}},
    "y": {"field": "bm", "type": "quantitative", "axis": {"orient": "right", "values": [0, 50, 100], "labels": false, "title": ["Peak snow water", "equivalent"], "titleLineHeight": 44, "titleX": -992.5, "titleY": 28.5, "titleAlign": "left", "titleBaseline": "top", "titleAngle": 0, "titleFont": "Open Sans", "titleFontSize": 35, "titleColor": "#000000"}}}},
  {"mark": {"type": "area", "color": "#f07878", "opacity": 0.5}, "encoding": {
    "x": {"field": "yr", "type": "quantitative", "axis": null},
    "y": {"field": "plo", "type": "quantitative", "axis": null}, "y2": {"field": "phi"}}},
  {"mark": {"type": "line", "color": "#8b6a73", "strokeWidth": 2.2}, "encoding": {
    "x": {"field": "yr", "type": "quantitative", "axis": null},
    "y": {"field": "pm", "type": "quantitative", "axis": null}}}
 ]},
{"width": 583, "height": 126, "data": {"name": "d"}, "transform": [{"filter": "datum.p=='B2'"}],
 "resolve": {"axis": {"x": "independent", "y": "independent"}},
 "layer": [
  {"mark": {"type": "area", "color": "#5fadf2"}, "encoding": {
    "x": {"field": "yr", "type": "quantitative", "scale": {"domain": [2071, 2100], "nice": false, "zero": false}, "axis": {"values": [2075, 2080, 2085, 2090, 2095], "labels": false, "title": null}},
    "y": {"field": "blo", "type": "quantitative", "scale": {"domain": [0, 100], "nice": false, "zero": false}, "axis": {"values": [0, 50, 100], "format": "d", "title": null}},
    "y2": {"field": "bhi"}}},
  {"mark": {"type": "line", "color": "#2f5a85", "strokeWidth": 2.2}, "encoding": {
    "x": {"field": "yr", "type": "quantitative", "axis": {"orient": "top", "values": [2075, 2080, 2085, 2090, 2095], "labels": false, "title": null}},
    "y": {"field": "bm", "type": "quantitative", "axis": {"orient": "right", "values": [0, 50, 100], "labels": false, "title": null}}}},
  {"mark": {"type": "area", "color": "#f07878", "opacity": 0.5}, "encoding": {
    "x": {"field": "yr", "type": "quantitative", "axis": null},
    "y": {"field": "plo", "type": "quantitative", "axis": null}, "y2": {"field": "phi"}}},
  {"mark": {"type": "line", "color": "#8b6a73", "strokeWidth": 2.2}, "encoding": {
    "x": {"field": "yr", "type": "quantitative", "axis": null},
    "y": {"field": "pm", "type": "quantitative", "axis": null}}}
 ]},
{"width": 580, "height": 126, "data": {"name": "d"}, "transform": [{"filter": "datum.p=='A3'"}],
 "resolve": {"axis": {"x": "independent", "y": "independent"}},
 "layer": [
  {"mark": {"type": "area", "color": "#5fadf2"}, "encoding": {
    "x": {"field": "yr", "type": "quantitative", "scale": {"domain": [2071, 2100], "nice": false, "zero": false}, "axis": {"values": [2075, 2080, 2085, 2090, 2095], "labels": false, "title": null}},
    "y": {"field": "blo", "type": "quantitative", "scale": {"domain": [0, 100], "nice": false, "zero": false}, "axis": {"values": [0, 50, 100], "format": "d", "title": ["Snow Cover", "Duration(days)"], "titleLineHeight": 22}},
    "y2": {"field": "bhi"}}},
  {"mark": {"type": "line", "color": "#2f5a85", "strokeWidth": 2.2}, "encoding": {
    "x": {"field": "yr", "type": "quantitative", "axis": {"orient": "top", "values": [2075, 2080, 2085, 2090, 2095], "labels": false, "title": null}},
    "y": {"field": "bm", "type": "quantitative", "axis": {"orient": "right", "values": [0, 50, 100], "labels": false, "title": ["Snow cover", "duration"], "titleLineHeight": 44, "titleX": -992.5, "titleY": 70, "titleAlign": "left", "titleBaseline": "top", "titleAngle": 0, "titleFont": "Open Sans", "titleFontSize": 35, "titleColor": "#000000"}}}},
  {"mark": {"type": "area", "color": "#f07878", "opacity": 0.5}, "encoding": {
    "x": {"field": "yr", "type": "quantitative", "axis": null},
    "y": {"field": "plo", "type": "quantitative", "axis": null}, "y2": {"field": "phi"}}},
  {"mark": {"type": "line", "color": "#8b6a73", "strokeWidth": 2.2}, "encoding": {
    "x": {"field": "yr", "type": "quantitative", "axis": null},
    "y": {"field": "pm", "type": "quantitative", "axis": null}}}
 ]},
{"width": 583, "height": 126, "data": {"name": "d"}, "transform": [{"filter": "datum.p=='B3'"}],
 "resolve": {"axis": {"x": "independent", "y": "independent"}},
 "layer": [
  {"mark": {"type": "area", "color": "#5fadf2"}, "encoding": {
    "x": {"field": "yr", "type": "quantitative", "scale": {"domain": [2071, 2100], "nice": false, "zero": false}, "axis": {"values": [2075, 2080, 2085, 2090, 2095], "labels": false, "title": null}},
    "y": {"field": "blo", "type": "quantitative", "scale": {"domain": [0, 100], "nice": false, "zero": false}, "axis": {"values": [0, 50, 100], "format": "d", "title": null}},
    "y2": {"field": "bhi"}}},
  {"mark": {"type": "line", "color": "#2f5a85", "strokeWidth": 2.2}, "encoding": {
    "x": {"field": "yr", "type": "quantitative", "axis": {"orient": "top", "values": [2075, 2080, 2085, 2090, 2095], "labels": false, "title": null}},
    "y": {"field": "bm", "type": "quantitative", "axis": {"orient": "right", "values": [0, 50, 100], "labels": false, "title": null}}}},
  {"mark": {"type": "area", "color": "#f07878", "opacity": 0.5}, "encoding": {
    "x": {"field": "yr", "type": "quantitative", "axis": null},
    "y": {"field": "plo", "type": "quantitative", "axis": null}, "y2": {"field": "phi"}}},
  {"mark": {"type": "line", "color": "#8b6a73", "strokeWidth": 2.2}, "encoding": {
    "x": {"field": "yr", "type": "quantitative", "axis": null},
    "y": {"field": "pm", "type": "quantitative", "axis": null}}}
 ]},
{"width": 580, "height": 126, "data": {"name": "d"}, "transform": [{"filter": "datum.p=='A4'"}],
 "resolve": {"axis": {"x": "independent", "y": "independent"}},
 "layer": [
  {"mark": {"type": "area", "color": "#5fadf2"}, "encoding": {
    "x": {"field": "yr", "type": "quantitative", "scale": {"domain": [2071, 2100], "nice": false, "zero": false}, "axis": {"values": [2075, 2080, 2085, 2090, 2095], "labels": false, "title": null}},
    "y": {"field": "blo", "type": "quantitative", "scale": {"domain": [0.1, 1.0], "nice": false, "zero": false}, "axis": {"values": [0.2, 0.4, 0.6, 0.8], "format": ".1f", "title": "Runoff(m)"}},
    "y2": {"field": "bhi"}}},
  {"mark": {"type": "line", "color": "#2f5a85", "strokeWidth": 2.2}, "encoding": {
    "x": {"field": "yr", "type": "quantitative", "axis": {"orient": "top", "values": [2075, 2080, 2085, 2090, 2095], "labels": false, "title": null}},
    "y": {"field": "bm", "type": "quantitative", "axis": {"orient": "right", "values": [0.2, 0.4, 0.6, 0.8], "labels": false, "title": "Runoff", "titleX": -989.5, "titleY": 54.5, "titleAlign": "left", "titleBaseline": "top", "titleAngle": 0, "titleFont": "Open Sans", "titleFontSize": 35, "titleColor": "#000000"}}}},
  {"mark": {"type": "area", "color": "#f07878", "opacity": 0.5}, "encoding": {
    "x": {"field": "yr", "type": "quantitative", "axis": null},
    "y": {"field": "plo", "type": "quantitative", "axis": null}, "y2": {"field": "phi"}}},
  {"mark": {"type": "line", "color": "#8b6a73", "strokeWidth": 2.2}, "encoding": {
    "x": {"field": "yr", "type": "quantitative", "axis": null},
    "y": {"field": "pm", "type": "quantitative", "axis": null}}}
 ]},
{"width": 583, "height": 126, "data": {"name": "d"}, "transform": [{"filter": "datum.p=='B4'"}],
 "resolve": {"axis": {"x": "independent", "y": "independent"}},
 "layer": [
  {"mark": {"type": "area", "color": "#5fadf2"}, "encoding": {
    "x": {"field": "yr", "type": "quantitative", "scale": {"domain": [2071, 2100], "nice": false, "zero": false}, "axis": {"values": [2075, 2080, 2085, 2090, 2095], "labels": false, "title": null}},
    "y": {"field": "blo", "type": "quantitative", "scale": {"domain": [0.1, 1.0], "nice": false, "zero": false}, "axis": {"values": [0.2, 0.4, 0.6, 0.8], "format": ".1f", "title": null}},
    "y2": {"field": "bhi"}}},
  {"mark": {"type": "line", "color": "#2f5a85", "strokeWidth": 2.2}, "encoding": {
    "x": {"field": "yr", "type": "quantitative", "axis": {"orient": "top", "values": [2075, 2080, 2085, 2090, 2095], "labels": false, "title": null}},
    "y": {"field": "bm", "type": "quantitative", "axis": {"orient": "right", "values": [0.2, 0.4, 0.6, 0.8], "labels": false, "title": null}}}},
  {"mark": {"type": "area", "color": "#f07878", "opacity": 0.5}, "encoding": {
    "x": {"field": "yr", "type": "quantitative", "axis": null},
    "y": {"field": "plo", "type": "quantitative", "axis": null}, "y2": {"field": "phi"}}},
  {"mark": {"type": "line", "color": "#8b6a73", "strokeWidth": 2.2}, "encoding": {
    "x": {"field": "yr", "type": "quantitative", "axis": null},
    "y": {"field": "pm", "type": "quantitative", "axis": null}}}
 ]},
{"width": 580, "height": 126, "data": {"name": "d"}, "transform": [{"filter": "datum.p=='A5'"}],
 "resolve": {"axis": {"x": "independent", "y": "independent"}},
 "layer": [
  {"mark": {"type": "area", "color": "#5fadf2"}, "encoding": {
    "x": {"field": "yr", "type": "quantitative", "scale": {"domain": [2071, 2100], "nice": false, "zero": false}, "axis": {"values": [2071, 2081, 2091, 2100], "format": "d", "title": null}},
    "y": {"field": "blo", "type": "quantitative", "scale": {"domain": [0, 0.04], "nice": false, "zero": false}, "axis": {"values": [0, 0.02, 0.04], "format": ".2~f", "title": "Low flow(mm)"}},
    "y2": {"field": "bhi"}}},
  {"mark": {"type": "line", "color": "#2f5a85", "strokeWidth": 2.2}, "encoding": {
    "x": {"field": "yr", "type": "quantitative", "axis": {"orient": "top", "values": [2071, 2081, 2091, 2100], "labels": false, "title": null}},
    "y": {"field": "bm", "type": "quantitative", "axis": {"orient": "right", "values": [0, 0.02, 0.04], "labels": false, "title": "Low-flow", "titleX": -992.5, "titleY": 54, "titleAlign": "left", "titleBaseline": "top", "titleAngle": 0, "titleFont": "Open Sans", "titleFontSize": 35, "titleColor": "#000000"}}}},
  {"mark": {"type": "area", "color": "#f07878", "opacity": 0.5}, "encoding": {
    "x": {"field": "yr", "type": "quantitative", "axis": null},
    "y": {"field": "plo", "type": "quantitative", "axis": null}, "y2": {"field": "phi"}}},
  {"mark": {"type": "line", "color": "#8b6a73", "strokeWidth": 2.2}, "encoding": {
    "x": {"field": "yr", "type": "quantitative", "axis": null},
    "y": {"field": "pm", "type": "quantitative", "axis": null}}}
 ]},
{"width": 583, "height": 126, "data": {"name": "d"}, "transform": [{"filter": "datum.p=='B5'"}],
 "resolve": {"axis": {"x": "independent", "y": "independent"}},
 "layer": [
  {"mark": {"type": "area", "color": "#5fadf2"}, "encoding": {
    "x": {"field": "yr", "type": "quantitative", "scale": {"domain": [2071, 2100], "nice": false, "zero": false}, "axis": {"values": [2071, 2081, 2091, 2100], "format": "d", "title": null}},
    "y": {"field": "blo", "type": "quantitative", "scale": {"domain": [0, 0.04], "nice": false, "zero": false}, "axis": {"values": [0, 0.02, 0.04], "format": ".2~f", "title": null}},
    "y2": {"field": "bhi"}}},
  {"mark": {"type": "line", "color": "#2f5a85", "strokeWidth": 2.2}, "encoding": {
    "x": {"field": "yr", "type": "quantitative", "axis": {"orient": "top", "values": [2071, 2081, 2091, 2100], "labels": false, "title": null}},
    "y": {"field": "bm", "type": "quantitative", "axis": {"orient": "right", "values": [0, 0.02, 0.04], "labels": false, "title": null}}}},
  {"mark": {"type": "area", "color": "#f07878", "opacity": 0.5}, "encoding": {
    "x": {"field": "yr", "type": "quantitative", "axis": null},
    "y": {"field": "plo", "type": "quantitative", "axis": null}, "y2": {"field": "phi"}}},
  {"mark": {"type": "line", "color": "#8b6a73", "strokeWidth": 2.2}, "encoding": {
    "x": {"field": "yr", "type": "quantitative", "axis": null},
    "y": {"field": "pm", "type": "quantitative", "axis": null}}}
 ]}
],
"config": {
 "view": {"stroke": "#999999", "strokeWidth": 1.8},
 "axis": {"domain": false, "grid": false, "tickColor": "#555555", "tickSize": -6, "tickWidth": 1.2, "labelFont": "Liberation Sans", "labelColor": "#262626", "titleFont": "Liberation Sans", "titleFontWeight": "normal", "titleColor": "#1a1a1a", "titleFontSize": 26},
 "axisY": {"labelFontSize": 21, "labelPadding": 18, "titlePadding": 9},
 "axisX": {"labelFontSize": 23, "labelPadding": 20, "labelFlush": false}
}
}
